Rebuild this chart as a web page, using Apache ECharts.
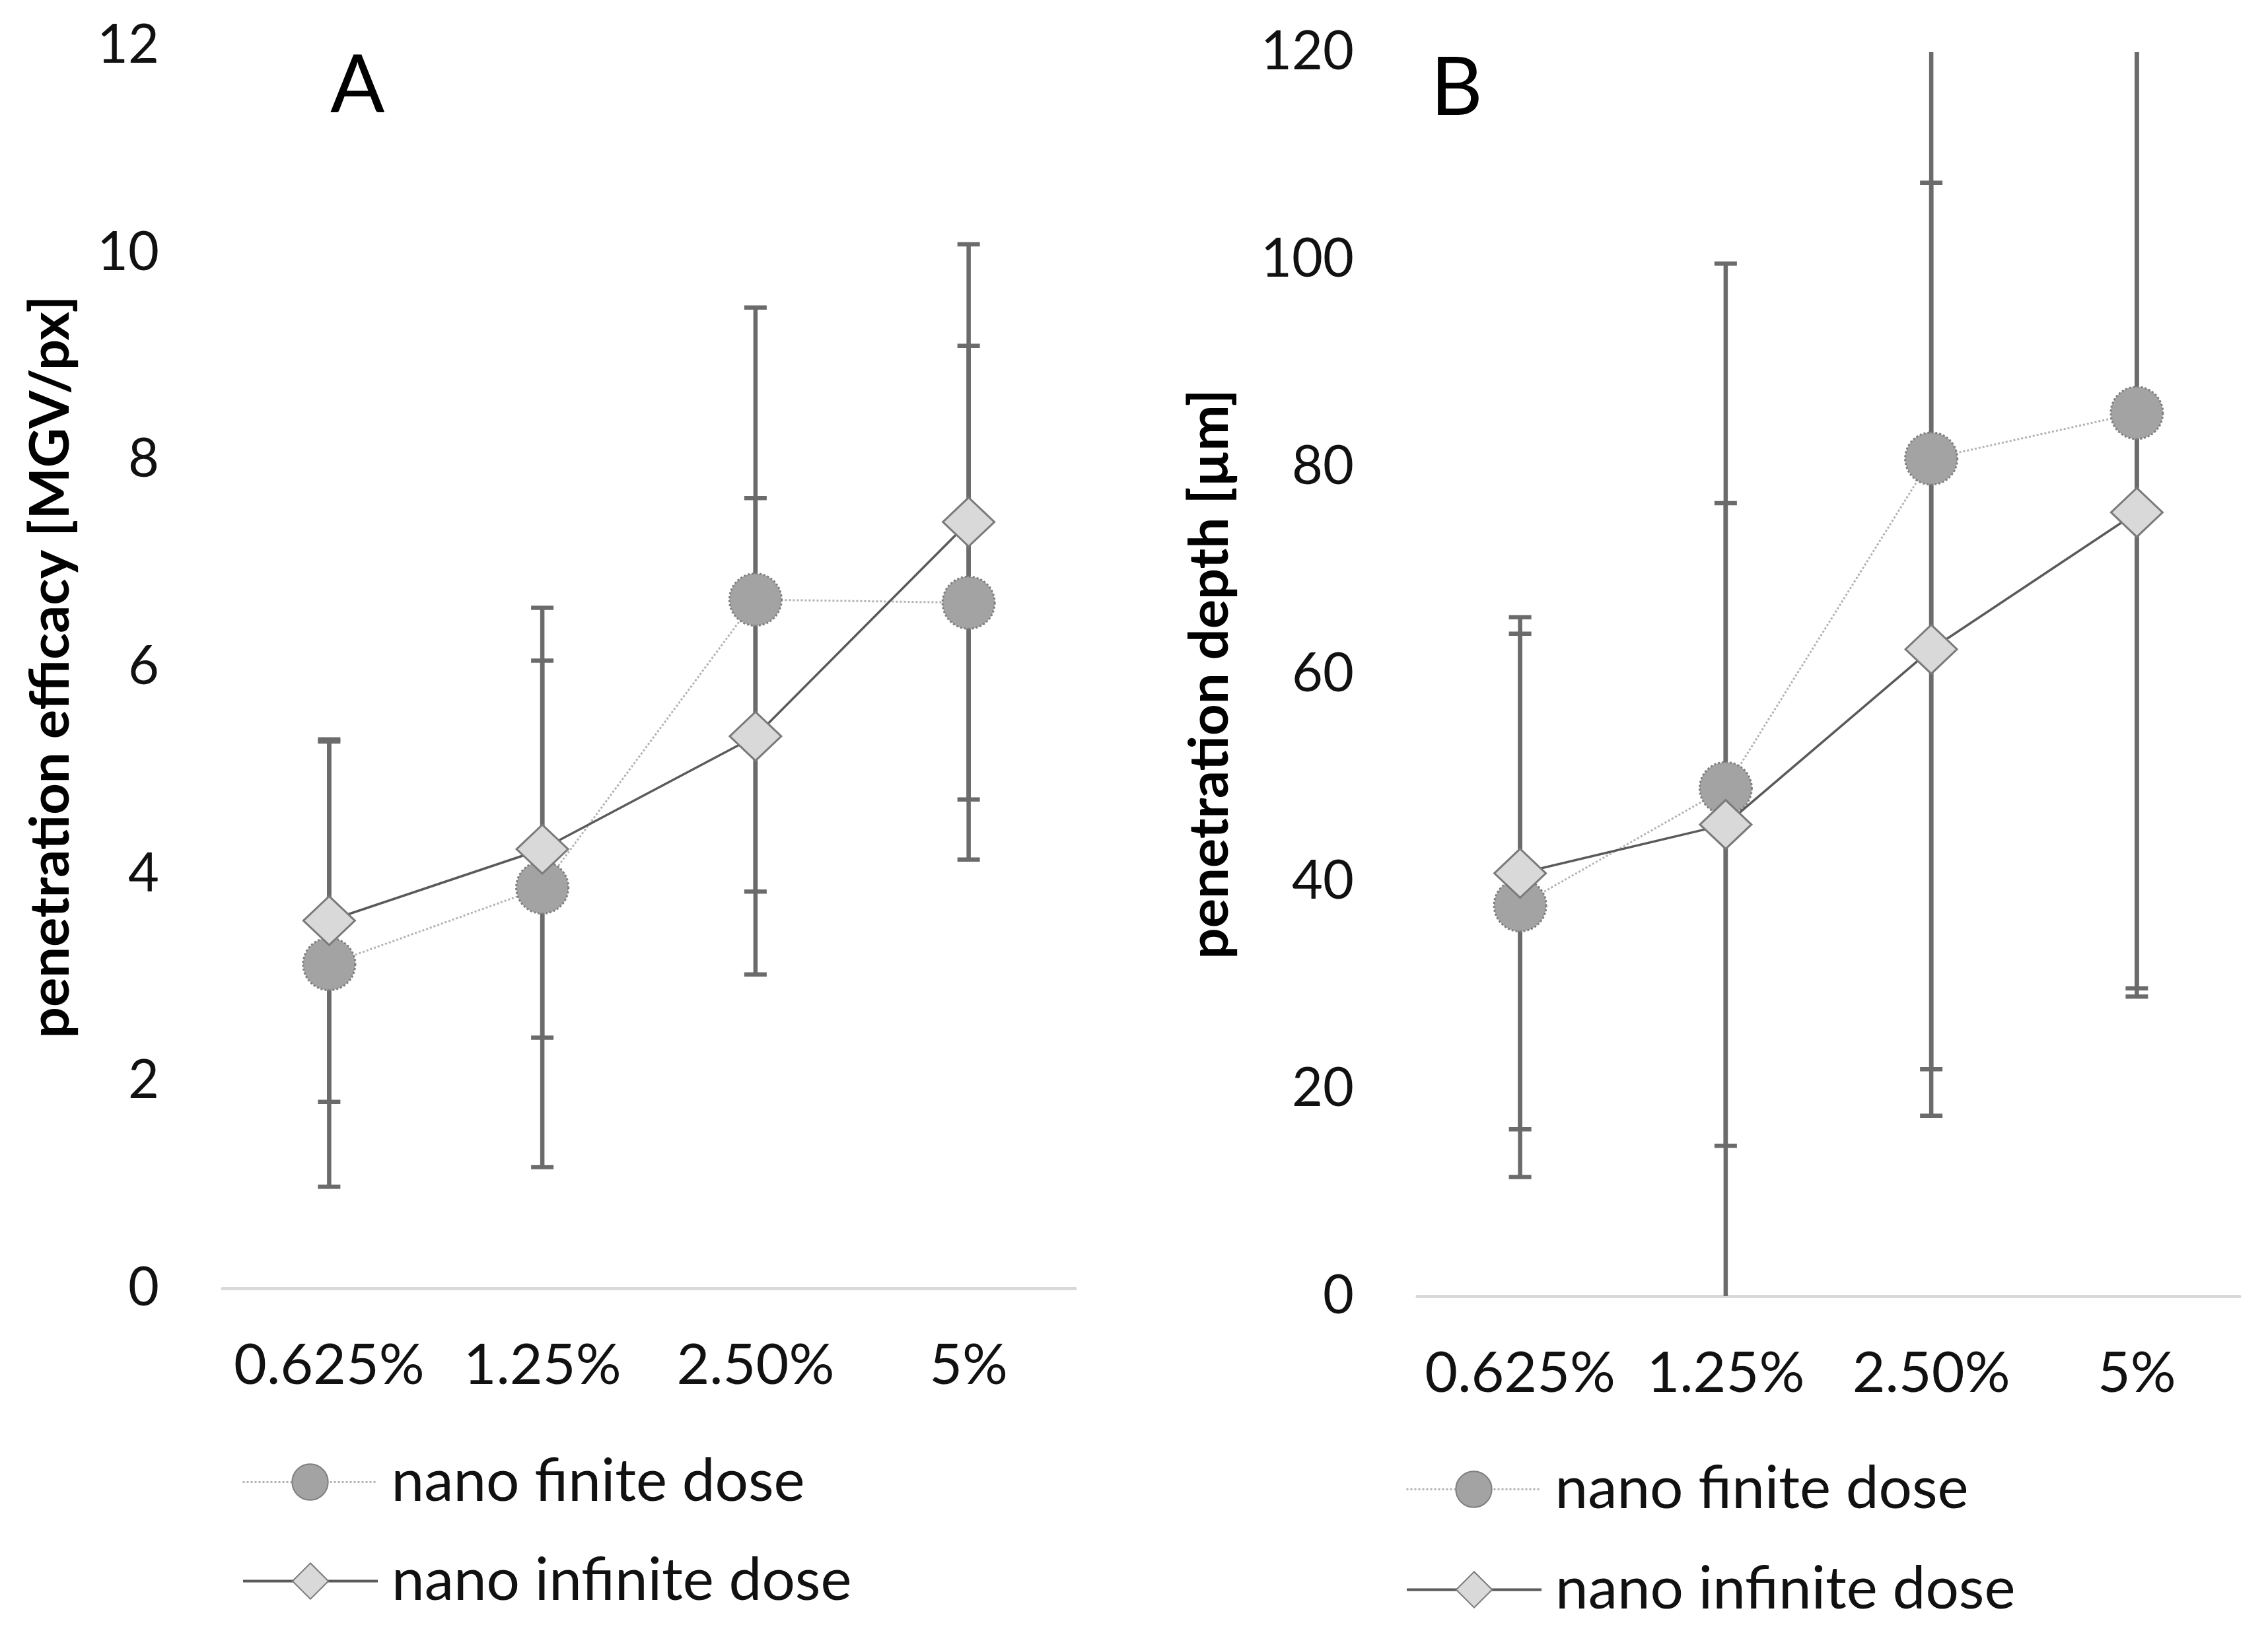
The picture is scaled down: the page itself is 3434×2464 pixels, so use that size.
<!DOCTYPE html>
<html>
<head>
<meta charset="utf-8">
<script src="https://cdn.jsdelivr.net/npm/echarts@6/dist/echarts.min.js"></script>
<style>
html,body{margin:0;padding:0;background:#fff;}
#chart{width:3434px;height:2464px;}
</style>
</head>
<body>
<div id="chart"></div>
<script>
// ---- data ----
const categories = ['0.625%', '1.25%', '2.50%', '5%'];
const seriesNames = ['nano finite dose', 'nano infinite dose'];

const aFiniteMean = [3.13, 3.87, 6.65, 6.62];
const aFiniteSd = [2.15, 2.70, 2.82, 2.48];
const aInfiniteMean = [3.55, 4.24, 5.33, 7.40];
const aInfiniteSd = [1.75, 1.82, 2.30, 2.68];

const bFiniteMean = [37.7, 49.0, 80.8, 85.2];
const bFiniteSd = [26.2, 50.6, 58.9, 55.5];
const bInfiniteMean = [40.8, 45.5, 62.4, 75.6];
const bInfiniteSd = [24.7, 31.0, 45.0, 46.7];

const aTicks = { min: 0, max: 12, interval: 2 };
const bTicks = { min: 0, max: 120, interval: 20 };
const aTitle = 'penetration efficacy [MGV/px]';
const bTitle = 'penetration depth [µm]';

// ---- styles ----
const FONT = 'Lato';
const TXT = '#111111';
const ERR_COLOR = '#6b6b6b';

function errData(mean, sd) {
  return mean.map((m, i) => [i, m - sd[i], m + sd[i]]);
}

function errorSeries(idx, mean, sd, ticks) {
  return {
    type: 'custom',
    xAxisIndex: idx, yAxisIndex: idx,
    z: 1,
    silent: true,
    data: errData(mean, sd),
    renderItem: function (params, api) {
      const x = api.value(0);
      let lo = api.value(1), hi = api.value(2);
      const capLo = lo >= ticks.min, capHi = hi <= ticks.max;
      lo = Math.max(lo, ticks.min); hi = Math.min(hi, ticks.max);
      const p1 = api.coord([x, lo]);
      const p2 = api.coord([x, hi]);
      const hw = 17;
      const st = { stroke: ERR_COLOR, lineWidth: 6.5 };
      const children = [{ type: 'line', shape: { x1: p1[0], y1: p1[1], x2: p2[0], y2: p2[1] }, style: st }];
      if (capLo) children.push({ type: 'line', shape: { x1: p1[0] - hw, y1: p1[1], x2: p1[0] + hw, y2: p1[1] }, style: st });
      if (capHi) children.push({ type: 'line', shape: { x1: p2[0] - hw, y1: p2[1], x2: p2[0] + hw, y2: p2[1] }, style: st });
      return { type: 'group', children: children };
    }
  };
}

function finiteSeries(idx, mean) {
  return {
    name: seriesNames[0], type: 'line',
    xAxisIndex: idx, yAxisIndex: idx, z: 3,
    data: mean,
    symbol: 'circle', symbolSize: 79,
    lineStyle: { color: '#b3b3b3', width: 3, type: 'dotted' },
    itemStyle: { color: '#a3a3a3', borderColor: '#7f7f7f', borderWidth: 3, borderType: 'dotted' },
    emphasis: { disabled: true },
    animation: false
  };
}

function infiniteSeries(idx, mean) {
  return {
    name: seriesNames[1], type: 'line',
    xAxisIndex: idx, yAxisIndex: idx, z: 4,
    data: mean,
    symbol: 'diamond', symbolSize: [78, 74],
    lineStyle: { color: '#5a5a5a', width: 3.5, type: 'solid' },
    itemStyle: { color: '#d9d9d9', borderColor: '#7a7a7a', borderWidth: 3 },
    emphasis: { disabled: true },
    animation: false
  };
}

function xAxisCfg(idx) {
  return {
    type: 'category', gridIndex: idx, data: categories, boundaryGap: true,
    axisLine: { show: true, lineStyle: { color: '#d9d9d9', width: 5 } },
    axisTick: { show: false },
    axisLabel: { fontFamily: FONT, fontSize: 86, color: TXT, margin: 74, interval: 0 },
    splitLine: { show: false }
  };
}

function yAxisCfg(idx, ticks, title, gap) {
  return {
    type: 'value', gridIndex: idx, min: ticks.min, max: ticks.max, interval: ticks.interval,
    axisLine: { show: false }, axisTick: { show: false },
    splitLine: { show: false },
    axisLabel: { fontFamily: FONT, fontSize: 81, color: TXT, margin: 96 },
    name: title, nameLocation: 'middle', nameGap: gap, nameRotate: 90,
    nameTextStyle: { fontFamily: FONT, fontSize: 83, fontWeight: 'bold', color: '#000' }
  };
}

function legendCfg(name, left, centerY, lineW) {
  return {
    orient: 'horizontal', left: left, top: centerY - 34, padding: 0,
    itemWidth: 204, itemHeight: 68, itemGap: 0,
    data: [name],
    textStyle: { fontFamily: FONT, fontSize: 89, color: TXT, lineHeight: 68, padding: [0, 0, 0, 16] },
    lineStyle: { width: lineW },
    selectedMode: false
  };
}

const chart = echarts.init(document.getElementById('chart'), null, { renderer: 'canvas' });
chart.setOption({
  backgroundColor: '#ffffff',
  animation: false,
  grid: [
    { left: 337, top: 69, width: 1291, height: 1882 },
    { left: 2146, top: 79, width: 1245, height: 1884 }
  ],
  xAxis: [xAxisCfg(0), xAxisCfg(1)],
  yAxis: [yAxisCfg(0, aTicks, aTitle, 218), yAxisCfg(1, bTicks, bTitle, 272)],
  legend: [
    legendCfg(seriesNames[0], 366, 2234, 3),
    legendCfg(seriesNames[1], 366, 2384, 4),
    legendCfg(seriesNames[0], 2128, 2245, 3),
    legendCfg(seriesNames[1], 2128, 2397, 4)
  ],
  graphic: [
    { type: 'text', left: 500, top: 70, style: { text: 'A', fontFamily: FONT, fontSize: 122, fill: '#000' } },
    { type: 'text', left: 2166, top: 74, style: { text: 'B', fontFamily: FONT, fontSize: 122, fill: '#000' } }
  ],
  series: [
    errorSeries(0, aFiniteMean, aFiniteSd, aTicks),
    errorSeries(0, aInfiniteMean, aInfiniteSd, aTicks),
    finiteSeries(0, aFiniteMean),
    infiniteSeries(0, aInfiniteMean),
    errorSeries(1, bFiniteMean, bFiniteSd, bTicks),
    errorSeries(1, bInfiniteMean, bInfiniteSd, bTicks),
    finiteSeries(1, bFiniteMean),
    infiniteSeries(1, bInfiniteMean)
  ]
});
</script>
</body>
</html>
